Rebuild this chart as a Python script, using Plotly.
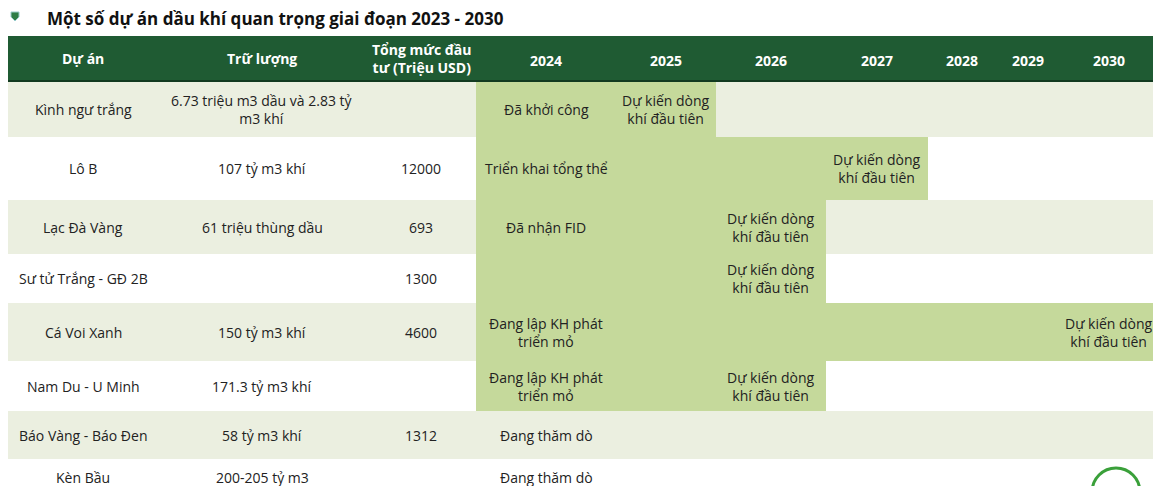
import plotly.graph_objects as go

projects = ["Kình ngư trắng", "Lô B", "Lạc Đà Vàng", "Sư tử Trắng - GĐ 2B",
            "Cá Voi Xanh", "Nam Du - U Minh", "Báo Vàng - Báo Đen", "Kèn Bầu"]
reserves = ["6.73 triệu m3 dầu và 2.83 tỷ<br>m3 khí", "107 tỷ m3 khí", "61 triệu thùng dầu", "",
            "150 tỷ m3 khí", "171.3 tỷ m3 khí", "58 tỷ m3 khí", "200-205 tỷ m3"]
invest = ["", "12000", "693", "1300", "4600", "", "1312", ""]
status_2024 = ["Đã khởi công", "Triển khai tổng thể", "Đã nhận FID", "",
               "Đang lập KH phát<br>triển mỏ", "Đang lập KH phát<br>triển mỏ", "Đang thăm dò", "Đang thăm dò"]
first_gas_year = [2025, 2027, 2026, 2026, 2030, 2026, None, None]
years = [2024, 2025, 2026, 2027, 2028, 2029, 2030]
headers = ["Dự án", "Trữ lượng", "Tổng mức đầu<br>tư (Triệu USD)"]

# layout geometry (pixels)
col_edges = [8, 158, 366, 476, 616, 716, 826, 928, 995, 1060, 1157]
row_edges = [82, 137, 200, 254, 303, 361, 411, 459, 500]
hdr_top, hdr_bot = 36, 81
DARK = "#1f5b33"; LIGHT = "#ebefe0"; GREEN = "#c5d99b"
FONT = "Open Sans"
OFF = 8  # page body offset

fig = go.Figure()
shapes = []
shapes.append(dict(type="rect", xref="x", yref="y", x0=col_edges[0], x1=col_edges[-1],
                   y0=hdr_top, y1=hdr_bot, fillcolor=DARK, line_width=0, layer="below"))
shapes.append(dict(type="line", xref="x", yref="y", x0=col_edges[0], x1=col_edges[-1],
                   y0=hdr_bot, y1=hdr_bot, line=dict(color="#123a20", width=2)))
for i in range(len(projects)):
    y0, y1 = row_edges[i], row_edges[i + 1]
    if i % 2 == 0:
        shapes.append(dict(type="rect", xref="x", yref="y", x0=col_edges[0], x1=col_edges[-1],
                           y0=y0, y1=y1, fillcolor=LIGHT, line_width=0, layer="below"))
    g = first_gas_year[i]
    if g is not None:
        x1 = col_edges[3 + years.index(g) + 1]
        shapes.append(dict(type="rect", xref="x", yref="y", x0=col_edges[3], x1=x1,
                           y0=y0, y1=y1, fillcolor=GREEN, line_width=0, layer="below"))

def cx(c):
    return (col_edges[c] + col_edges[c + 1]) / 2

ann = []
for c, h in enumerate(headers):
    ann.append(dict(x=cx(c), y=(hdr_top + hdr_bot) / 2, text="<b>%s</b>" % h))
for j, yv in enumerate(years):
    ann.append(dict(x=cx(3 + j), y=(hdr_top + hdr_bot) / 2 + 2, text="<b>%d</b>" % yv))
for a in ann:
    a.update(xref="x", yref="y", showarrow=False, font=dict(color="white", size=14, family=FONT))

for i in range(len(projects)):
    yc = (row_edges[i] + row_edges[i + 1]) / 2
    if i == 7:
        yc = 477
    for c, t in enumerate([projects[i], reserves[i], invest[i], status_2024[i]]):
        if t:
            ann.append(dict(x=cx(c), y=yc, text=t, xref="x", yref="y", showarrow=False,
                            font=dict(size=14, color="#222", family=FONT)))
    g = first_gas_year[i]
    if g is not None:
        ann.append(dict(x=cx(3 + years.index(g)), y=yc, text="Dự kiến dòng<br>khí đầu tiên",
                        xref="x", yref="y", showarrow=False,
                        font=dict(size=14, color="#222", family=FONT)))

ann.append(dict(x=45, y=18, text="<b>Một số dự án dầu khí quan trọng giai đoạn 2023 - 2030</b>",
                xref="x", yref="y", xanchor="left", showarrow=False,
                font=dict(size=17, color="#111", family=FONT)))
shapes.append(dict(type="path", xref="x", yref="y",
                   path="M 11 12 L 19 12 L 19 17 L 15 21 L 11 17 Z",
                   fillcolor="#2e7d46", line=dict(color="#9cc", width=1)))
shapes.append(dict(type="circle", xref="x", yref="y", x0=1092, x1=1140, y0=468, y1=516,
                   line=dict(color="#3aa03a", width=3)))

fig.add_trace(go.Scatter(x=[0], y=[0], mode="markers", marker=dict(opacity=0), hoverinfo="skip"))
fig.update_layout(width=1161, height=486, margin=dict(l=0, r=0, t=0, b=0),
                  plot_bgcolor="white", paper_bgcolor="white", showlegend=False,
                  shapes=shapes, annotations=ann,
                  xaxis=dict(range=[OFF, 1161 + OFF], visible=False, fixedrange=True),
                  yaxis=dict(range=[486 + OFF, OFF], visible=False, fixedrange=True))
fig.write_html("out.html")
